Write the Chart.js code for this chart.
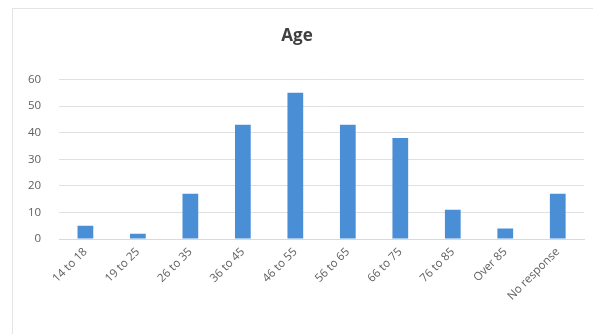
<!DOCTYPE html>
<html>
<head>
<meta charset="utf-8">
<script src="https://cdn.jsdelivr.net/npm/chart.js@4"></script>
<style>
  html, body { margin: 0; padding: 0; background: #fff; }
  #wrap { position: absolute; left: 12px; top: 8px; width: 580px; height: 325px; border: 1px solid #e4e4e4; border-right: none; border-bottom: none; }
  canvas { position: absolute; left: 0; top: 0; }
</style>
</head>
<body>
<div id="wrap"></div>
<canvas id="chart" width="594" height="335"></canvas>
<script>
var labels = ['14 to 18', '19 to 25', '26 to 35', '36 to 45', '46 to 55', '56 to 65', '66 to 75', '76 to 85', 'Over 85', 'No response'];
var counts = [5, 2, 17, 43, 55, 43, 38, 11, 4, 17];
var yTicks = [0, 10, 20, 30, 40, 50, 60];

var canvas = document.getElementById('chart');
var ctx = canvas.getContext('2d');

var ageChart = new Chart(ctx, {
    type: 'bar',
    data: {
        labels: labels,
        datasets: [
            { label: 'Age', data: counts, backgroundColor: '#4a8fd6', barPercentage: 0.6, categoryPercentage: 0.5 }
        ]
    },
    options: {
        responsive: false,
        animation: false,
        layout: { padding: { left: 10, right: 10, top: 26, bottom: 26 } },
        plugins: {
            legend: { display: false },
            tooltip: { enabled: false },
            title: {
                display: true,
                text: 'Age',
                color: '#404040',
                font: { family: 'Open Sans', size: 17, weight: 'bold' },
                padding: { top: 0, bottom: 33 }
            }
        },
        scales: {
            x: {
                grid: { display: false, drawTicks: false },
                border: { color: '#d9d9d9' },
                ticks: {
                    color: '#606060',
                    font: { family: 'Open Sans', size: 11.5 },
                    maxRotation: 45,
                    minRotation: 45,
                    padding: 6
                }
            },
            y: {
                min: 0,
                max: 60,
                afterBuildTicks: function (axis) {
                    axis.ticks = yTicks.map(function (v) { return { value: v }; });
                },
                grid: { color: '#e0e0e0', drawTicks: false },
                border: { display: false },
                ticks: {
                    color: '#606060',
                    font: { family: 'Open Sans', size: 11.5 },
                    padding: 18
                }
            }
        }
    }
});
</script>
</body>
</html>
